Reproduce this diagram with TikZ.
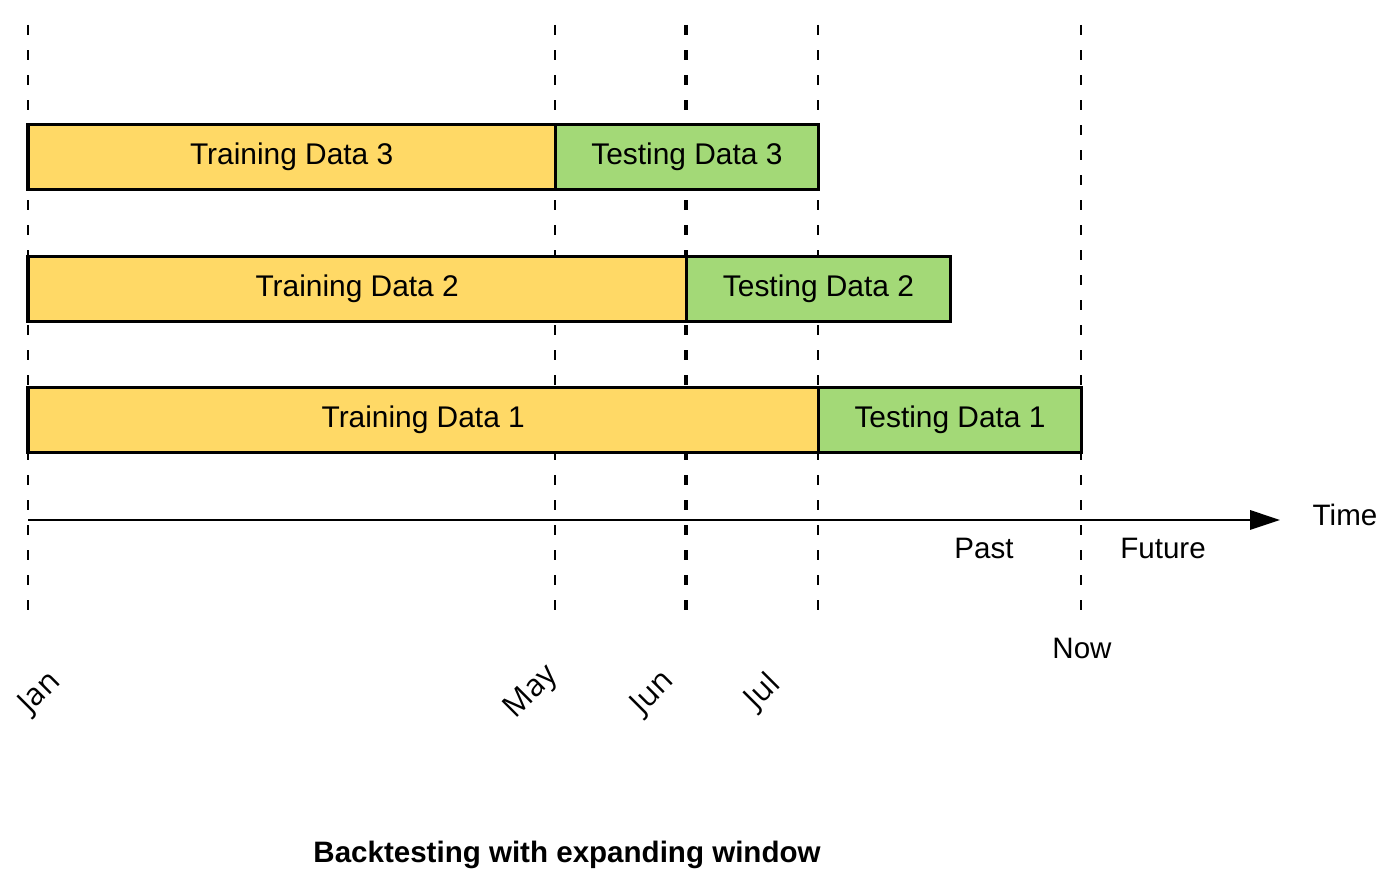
\documentclass[tikz,border=0pt]{standalone}
\usepackage{fontspec}
\setmainfont{Liberation Sans}
\newfontfamily\monthfont{Open Sans}
\usetikzlibrary{positioning,arrows.meta}

\definecolor{trainyellow}{HTML}{FFD966}
\definecolor{testgreen}{HTML}{A3D977}

\tikzset{
  bar/.style={draw, line width=1pt, minimum height=0.65cm, inner sep=0pt,
    outer sep=0pt, anchor=west, font=\fontsize{8.5}{10}\selectfont},
  train/.style={bar, fill=trainyellow},
  test/.style={bar, fill=testgreen},
  guide/.style={dash pattern=on 0.1cm off 0.15cm, line width=0.6pt},
  label/.style={font=\fontsize{8.4}{10}\selectfont},
  month/.style={rotate=45, font=\monthfont\fontsize{8.8}{10}\selectfont},
}

\begin{document}
\begin{tikzpicture}[x=0.01cm, y=-0.01cm]
  \useasboundingbox (0,0) rectangle (1400,883);

  % month guides
  \foreach \name/\x in {jan/28, may/555, jun/686, jul/818} {
    \coordinate (\name-top) at (\x,25);
    \coordinate (\name-bot) at (\x,620);
  }
  \coordinate (now-top) at (1081,25);
  \coordinate (now-bot) at (1081,610);
  \draw [guide] (jan-top) -- (jan-bot);
  \draw [guide] (may-top) -- (may-bot);
  \draw [guide, line width=1.1pt] (jun-top) -- (jun-bot);
  \draw [guide] (jul-top) -- (jul-bot);
  \draw [guide] (now-top) -- (now-bot);

  % the three splits
  \node [train, minimum width=5.27cm] (tr3) at (28,157) {Training Data 3};
  \node [test, minimum width=2.63cm] (te3) at (tr3.east) {Testing Data 3};
  \node [train, minimum width=6.58cm] (tr2) at (28,289) {Training Data 2};
  \node [test, minimum width=2.64cm] (te2) at (tr2.east) {Testing Data 2};
  \node [train, minimum width=7.90cm] (tr1) at (28,420) {Training Data 1};
  \node [test, minimum width=2.63cm] (te1) at (tr1.east) {Testing Data 1};

  % time axis
  \coordinate (t0) at (28,520);
  \coordinate (t1) at (1280,520);
  \draw [line width=0.6pt, -{Triangle[length=8.5pt, width=5.5pt]}] (t0) -- (t1);
  \node [label] (time) at (1345,515) {Time};
  \node [label] (past) at (984,548) {Past};
  \node [label] (future) at (1163,548) {Future};
  \node [label] (now) at (1082,648) {Now};

  \node [month] (jan) at (40,693) {Jan};
  \node [month] (may) at (532,693) {May};
  \node [month] (jun) at (653,693) {Jun};
  \node [month] (jul) at (763,692) {Jul};

  \node [font=\bfseries\fontsize{8.4}{10}\selectfont] (title) at (567,855)
    {Backtesting with expanding window};
\end{tikzpicture}
\end{document}
